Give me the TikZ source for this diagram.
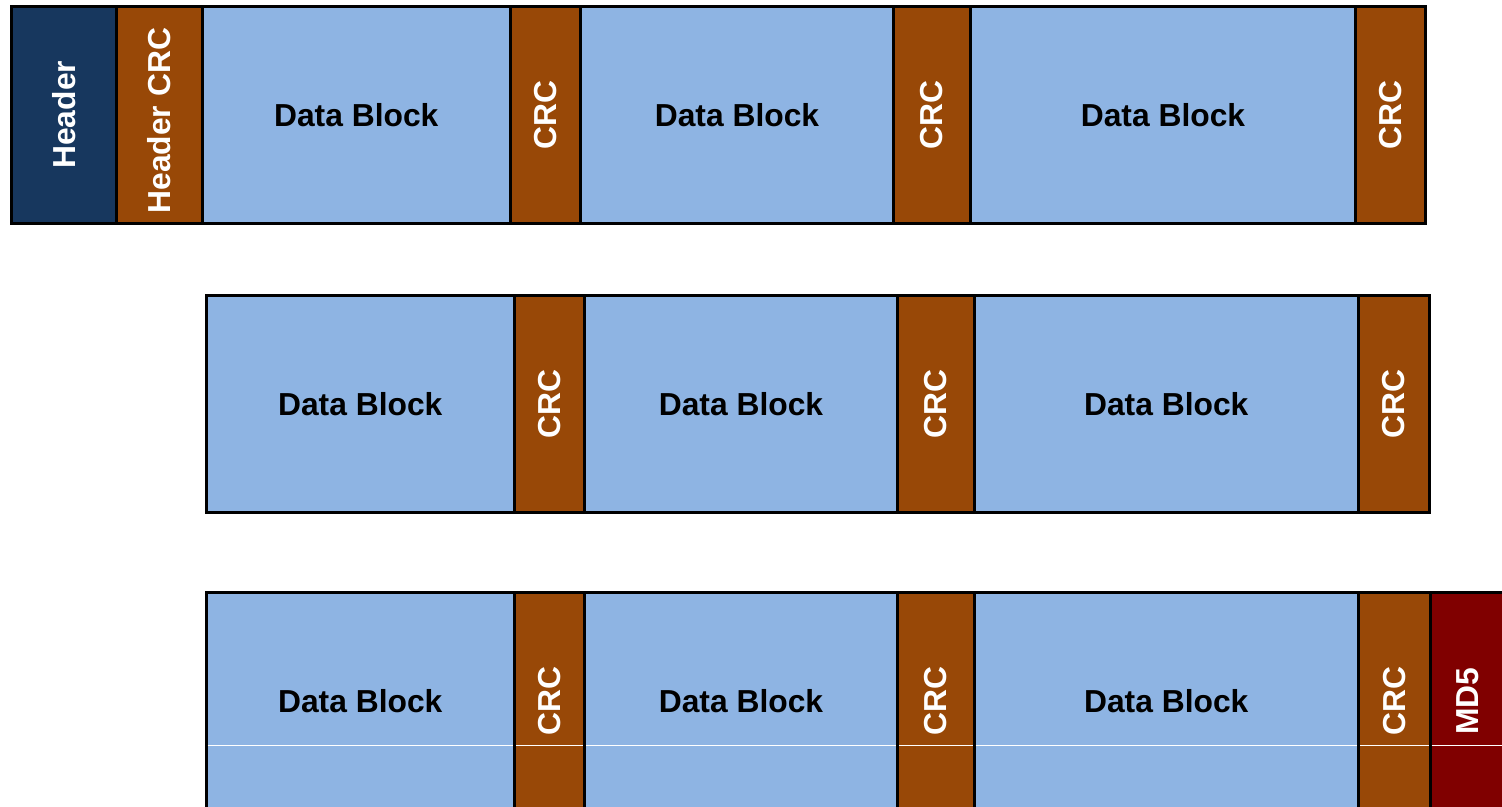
\documentclass[tikz,border=0pt]{standalone}
\usepackage{fontspec}
\setmainfont{Liberation Sans}
\begin{document}
\begin{tikzpicture}[x=1pt,y=-1pt,
  cell/.style={draw=black, line width=3pt, minimum height=216.5pt, inner sep=0pt, outer sep=0pt, font=\fontsize{31.8}{32}\selectfont\bfseries},
  datab/.style={cell, fill=dblue, text=black},
  crc/.style={cell, fill=crcbrown, text=white},
  hdr/.style={cell, fill=hdrnavy, text=white},
  md/.style={cell, fill=mdred, text=white},
  whiteline/.style={draw=white, line width=1pt}]
\definecolor{dblue}{HTML}{8EB4E3}
\definecolor{crcbrown}{HTML}{984807}
\definecolor{hdrnavy}{HTML}{17375E}
\definecolor{mdred}{HTML}{800000}
\useasboundingbox (0,0) rectangle (1502,806);
\clip (0,0) rectangle (1502,806);
% Row 1
\node[hdr, minimum width=105pt] (h) at (64,114.75) {\rotatebox{90}{Header}};
\node[crc, minimum width=85.5pt] (hc) at (159.25,114.75) {\raisebox{0pt}{\rotatebox{90}{\hspace{-12pt}Header CRC}}};
\node[datab, minimum width=308.5pt] (a1) at (356.25,114.75) {\raisebox{-2pt}{Data Block}};
\node[crc, minimum width=70pt] (ac1) at (545.5,114.75) {\rotatebox{90}{CRC}};
\node[datab, minimum width=313pt] (a2) at (737,114.75) {\raisebox{-2pt}{Data Block}};
\node[crc, minimum width=77pt] (ac2) at (932,114.75) {\rotatebox{90}{CRC}};
\node[datab, minimum width=385pt] (a3) at (1163,114.75) {\raisebox{-2pt}{Data Block}};
\node[crc, minimum width=69.5pt] (ac3) at (1390.25,114.75) {\rotatebox{90}{CRC}};
% Row 2
\node[datab, minimum width=308.5pt] (b1) at (360.25,403.75) {Data Block};
\node[crc, minimum width=70pt] (bc1) at (549.5,403.75) {\rotatebox{90}{CRC}};
\node[datab, minimum width=313pt] (b2) at (741,403.75) {Data Block};
\node[crc, minimum width=76.5pt] (bc2) at (935.75,403.75) {\rotatebox{90}{CRC}};
\node[datab, minimum width=384.5pt] (b3) at (1166.25,403.75) {Data Block};
\node[crc, minimum width=70.5pt] (bc3) at (1393.75,403.75) {\rotatebox{90}{CRC}};
% Row 3
\begin{scope}[every node/.append style={minimum height=219pt}]
\node[datab, minimum width=308.5pt] (c1) at (360.25,701) {Data Block};
\node[crc, minimum width=70pt] (cc1) at (549.5,701) {\rotatebox{90}{CRC}};
\node[datab, minimum width=313pt] (c2) at (741,701) {Data Block};
\node[crc, minimum width=76.5pt] (cc2) at (935.75,701) {\rotatebox{90}{CRC}};
\node[datab, minimum width=384.5pt] (c3) at (1166.25,701) {Data Block};
\node[crc, minimum width=71.5pt] (cc3) at (1394.25,701) {\rotatebox{90}{CRC}};
\node[md, minimum width=76pt] (md5) at (1468,701) {\rotatebox{90}{MD5}};
\end{scope}
\foreach \n in {c1,cc1,c2,cc2,c3,cc3,md5}
  \draw[whiteline] ([xshift=1.5pt]\n.west |- 0,745) -- ([xshift=-1.5pt]\n.east |- 0,745);
\end{tikzpicture}
\end{document}
